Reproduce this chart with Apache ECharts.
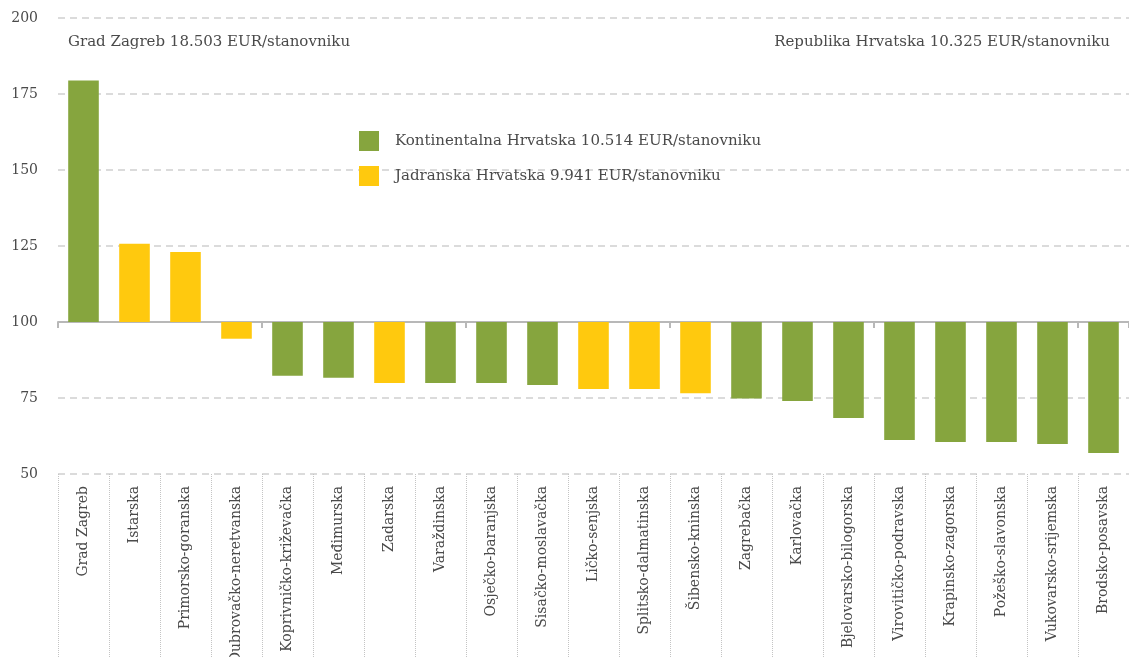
<!DOCTYPE html>
<html lang="hr">
<head>
    <meta charset="UTF-8">
    <title>BDP po stanovniku</title>
    <script src="https://cdn.jsdelivr.net/npm/echarts@6/dist/echarts.min.js"></script>
    <style>
        html, body { margin: 0; padding: 0; background: #fff; }
        #chart { width: 1129px; height: 657px; }
    </style>
</head>
<body>
<div id="chart"></div>
<script>
    // podaci (indeks, RH = 100)
    var zupanije = ['Grad Zagreb', 'Istarska', 'Primorsko-goranska', 'Dubrovačko-neretvanska',
        'Koprivničko-križevačka', 'Međimurska', 'Zadarska', 'Varaždinska', 'Osječko-baranjska',
        'Sisačko-moslavačka', 'Ličko-senjska', 'Splitsko-dalmatinska', 'Šibensko-kninska',
        'Zagrebačka', 'Karlovačka', 'Bjelovarsko-bilogorska', 'Virovitičko-podravska',
        'Krapinsko-zagorska', 'Požeško-slavonska', 'Vukovarsko-srijemska', 'Brodsko-posavska'];
    var indeks = [179.4, 125.7, 123.0, 94.5, 82.3, 81.7, 79.9, 79.9, 79.9, 79.3, 78.0, 78.0, 76.6,
        74.8, 74.0, 68.4, 61.2, 60.5, 60.5, 59.9, 56.9];
    // K = kontinentalna, J = jadranska
    var regija = ['K', 'J', 'J', 'J', 'K', 'K', 'J', 'K', 'K', 'K', 'J', 'J', 'J',
        'K', 'K', 'K', 'K', 'K', 'K', 'K', 'K'];
    var legendaK = 'Kontinentalna Hrvatska 10.514 EUR/stanovniku';
    var legendaJ = 'Jadranska Hrvatska 9.941 EUR/stanovniku';
    var naslovLijevo = 'Grad Zagreb 18.503 EUR/stanovniku';
    var naslovDesno = 'Republika Hrvatska 10.325 EUR/stanovniku';
    var baza = 100;

    var font = 'DejaVu Serif';
    var boja = '#4a4a4a';

    // stupci idu od 100, pa crtamo razliku
    var kont = indeks.map(function (v, i) { return regija[i] === 'K' ? +(v - baza).toFixed(1) : '-'; });
    var jadr = indeks.map(function (v, i) { return regija[i] === 'J' ? +(v - baza).toFixed(1) : '-'; });

    var myChart = echarts.init(document.getElementById('chart'));
    var option = {
        animation: false,
        textStyle: { fontFamily: font },
        title: [{
            text: naslovLijevo,
            left: 68, top: 35, padding: 0,
            textStyle: { fontFamily: font, fontWeight: 'normal', fontSize: 15, color: boja }
        }, {
            text: naslovDesno,
            right: 19, top: 35, padding: 0,
            textStyle: { fontFamily: font, fontWeight: 'normal', fontSize: 15, color: boja }
        }],
        legend: {
            orient: 'vertical',
            left: 359, top: 131, padding: 0,
            itemWidth: 20, itemHeight: 20, itemGap: 15,
            icon: 'rect',
            data: [legendaK, legendaJ],
            textStyle: { fontFamily: font, fontSize: 15, color: boja, padding: [6, 0, 0, 11] }
        },
        grid: { left: 58, right: 0, top: 18, bottom: 183, containLabel: false, outerBoundsMode: 'none' },
        xAxis: [{
            type: 'category',
            data: zupanije,
            axisLine: { onZero: true, lineStyle: { color: '#b8b8b8', width: 2 } },
            axisTick: { show: true, length: 6, lineStyle: { color: '#b8b8b8', width: 2 } },
            axisLabel: { show: false },
            splitLine: { show: false }
        }, {
            type: 'category',
            data: zupanije,
            position: 'bottom',
            axisLine: { show: false, onZero: false },
            axisTick: { show: true, length: 190, lineStyle: { color: '#c4c4c4', type: 'dotted', width: 1 } },
            axisLabel: {
                interval: 0, rotate: 90, margin: 12,
                fontFamily: font, fontSize: 14, color: boja
            },
            splitLine: { show: false }
        }],
        yAxis: {
            type: 'value',
            min: -50, max: 100, interval: 25,
            axisLine: { show: false },
            axisTick: { show: false },
            axisLabel: {
                margin: 20, fontFamily: font, fontSize: 14, color: boja,
                formatter: function (v) { return v + baza; }
            },
            splitLine: { lineStyle: { color: '#cfcfcf', type: [7, 5], width: 1.5 } }
        },
        series: [{
            name: legendaK,
            type: 'bar',
            stack: 'r',
            barWidth: '60%',
            itemStyle: { color: '#86a53e' },
            data: kont
        }, {
            name: legendaJ,
            type: 'bar',
            stack: 'r',
            barWidth: '60%',
            itemStyle: { color: '#ffc90e' },
            data: jadr
        }]
    };
    myChart.setOption(option);
</script>
</body>
</html>
